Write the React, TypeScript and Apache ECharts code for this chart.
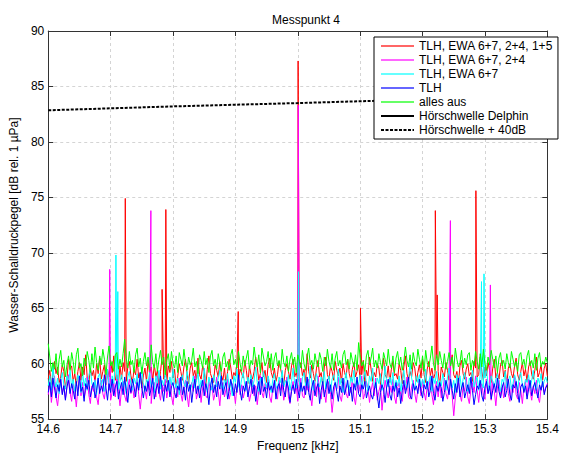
import React, { useEffect, useRef } from "react";
import * as echarts from "echarts";

const FONT = "'Liberation Sans', Arial, Helvetica, sans-serif";

const seriesNames = [
  "TLH, EWA 6+7, 2+4, 1+5",
  "TLH, EWA 6+7, 2+4",
  "TLH, EWA 6+7",
  "TLH",
  "alles aus",
  "Hörschwelle Delphin",
  "Hörschwelle + 40dB",
];
const seriesColors = ["#ff0000", "#ff00ff", "#00ffff", "#0000ff", "#00ff00", "#000000", "#000000"];

// frequency sampling of the noise spectra (kHz)
const freqStart = 14.6;
const freqStep = 0.0025;

const noiseRed = [
  58.6, 59.4, 58.1, 59.0, 60.2, 59.1, 59.7, 58.3, 58.8, 59.9, 59.3, 57.9, 58.6, 60.4, 59.5, 59.8,
  58.4, 59.1, 58.0, 59.3, 60.1, 58.5, 59.7, 59.0, 60.8, 58.7, 58.2, 59.6, 58.9, 59.4, 58.3, 60.0,
  59.1, 60.5, 58.6, 59.3, 59.9, 58.1, 59.5, 58.8, 60.3, 59.2, 60.7, 58.5, 59.0, 58.2, 59.8, 58.6,
  60.1, 59.3, 58.4, 59.7, 60.2, 58.9, 58.3, 59.5, 59.0, 60.4, 58.7, 59.2, 57.8, 58.9, 59.6, 58.4,
  60.3, 59.1, 59.7, 58.5, 59.9, 58.8, 59.4, 58.1, 59.3, 60.6, 58.6, 59.0, 58.3, 59.8, 59.2, 60.2,
  58.7, 59.5, 57.9, 58.8, 60.0, 59.3, 58.5, 59.7, 60.4, 59.1, 58.2, 59.6, 60.1, 58.9, 59.4, 58.4,
  60.5, 59.0, 58.6, 59.8, 59.3, 58.0, 59.5, 60.7, 59.1, 58.7, 58.3, 59.9, 59.4, 58.8, 60.2, 59.0,
  58.5, 59.6, 58.1, 59.3, 60.4, 59.7, 58.6, 59.2, 58.9, 60.0, 58.4, 59.5, 59.1, 58.7, 60.3, 59.4,
  58.2, 59.8, 59.0, 58.6, 59.3, 60.6, 59.7, 58.5, 59.1, 60.1, 58.8, 59.4, 58.3, 59.9, 60.5, 59.2,
  58.7, 59.6, 58.4, 59.0, 60.2, 59.5, 58.9, 58.1, 59.4, 60.0, 59.3, 58.6, 59.8, 60.4, 58.8, 59.2,
  58.5, 59.7, 60.1, 58.9, 59.5, 58.2, 60.9, 59.3, 58.7, 59.9, 59.1, 58.4, 59.6, 60.3, 58.8, 59.2,
  58.0, 59.7, 60.6, 59.0, 58.6, 59.8, 59.3, 58.5, 60.2, 59.4, 58.9, 59.6, 58.3, 60.0, 59.2, 58.7,
  60.4, 59.1, 58.5, 59.5, 60.1, 58.8, 59.3, 59.9, 58.6, 59.0, 60.3, 58.2, 59.4, 58.9, 60.6, 59.5,
  58.4, 59.2, 58.8, 60.0, 59.6, 58.1, 59.3, 60.5, 59.0, 58.7, 59.8, 58.3, 59.5, 60.2, 58.9, 59.1,
  58.6, 60.0, 59.4, 58.2, 59.7, 60.7, 59.1, 58.5, 59.3, 58.8, 60.1, 59.6, 58.4, 59.2, 59.9, 58.7,
  60.4, 59.0, 58.3, 59.5, 60.2, 58.9, 59.6, 58.6, 59.1, 60.5, 59.3, 58.0, 59.7, 59.2, 58.8, 60.1,
  59.4, 58.5, 59.9, 60.8, 59.0, 58.7, 59.3, 58.2, 59.8, 60.3, 59.1, 58.6, 59.5, 60.0, 58.9, 59.2,
  58.4, 60.2, 59.6, 58.8, 59.0, 60.6, 59.3, 58.5, 59.7, 58.9, 60.1, 59.4, 58.3, 59.6, 60.4, 58.7,
  59.2, 58.6, 59.9, 60.3, 58.8, 59.4, 58.1, 59.6, 60.0, 59.1, 58.7, 59.8, 60.5, 59.0, 58.5, 59.3,
  60.1, 58.9, 59.5, 58.4, 59.7, 60.2, 59.0, 58.6, 59.4, 60.6, 58.8, 59.2, 59.9, 58.5, 59.6, 60.0,
  58.9,
];

const noiseMagenta = [
  57.2, 58.4, 56.5, 57.8, 58.9, 57.0, 56.2, 57.6, 58.5, 57.3, 58.1, 56.8, 57.9, 59.0, 57.4, 56.6,
  58.2, 57.5, 56.1, 57.8, 58.7, 57.1, 58.3, 56.9, 57.6, 58.8, 57.2, 56.4, 58.0, 57.5, 58.6, 57.0,
  56.3, 57.9, 58.5, 57.3, 56.8, 58.2, 59.1, 57.6, 56.7, 57.4, 58.3, 57.0, 58.8, 57.5, 56.2, 57.7,
  58.4, 57.1, 56.6, 57.9, 58.6, 57.3, 58.0, 56.9, 57.5, 58.7, 57.2, 55.9, 57.4, 58.2, 57.7, 56.8,
  58.5, 57.6, 56.4, 57.9, 58.3, 57.0, 58.9, 57.4, 56.7, 58.1, 57.5, 58.6, 56.9, 57.8, 58.4, 57.1,
  56.3, 57.6, 58.2, 57.0, 58.7, 57.3, 56.6, 57.9, 58.5, 57.2, 56.1, 57.7, 58.3, 57.5, 58.9, 56.8,
  57.4, 58.1, 56.5, 57.8, 58.6, 57.1, 56.9, 58.4, 57.6, 58.0, 56.7, 57.3, 58.8, 57.5, 56.2, 57.9,
  58.3, 57.0, 57.7, 58.6, 56.8, 57.4, 58.2, 57.6, 56.4, 57.9, 58.7, 57.2, 58.1, 56.9, 57.5, 58.4,
  57.8, 56.6, 57.3, 58.5, 57.1, 58.0, 56.3, 57.6, 58.9, 57.4, 56.9, 58.2, 57.7, 58.6, 57.0, 56.5,
  57.9, 58.3, 57.2, 56.8, 58.5, 57.6, 58.1, 56.7, 57.4, 58.8, 57.0, 56.4, 57.8, 58.4, 57.3, 58.0,
  56.6, 57.5, 58.7, 57.1, 56.9, 58.2, 57.6, 58.6, 57.3, 56.2, 57.7, 58.3, 57.0, 58.9, 57.4, 56.8,
  58.1, 57.5, 56.5, 57.9, 58.4, 57.2, 55.6, 57.0, 58.3, 57.7, 58.8, 57.1, 56.6, 57.8, 58.5, 57.3,
  56.9, 58.0, 57.4, 58.6, 57.0, 56.3, 57.7, 58.2, 57.5, 58.9, 56.8, 57.3, 58.4, 57.8, 56.5, 57.6,
  58.3, 57.1, 58.7, 56.7, 57.5, 58.1, 55.8, 57.2, 58.5, 57.6, 56.9, 58.0, 57.4, 58.6, 57.0, 56.4,
  57.8, 58.3, 57.2, 56.6, 58.1, 57.6, 58.8, 57.0, 56.8, 57.9, 58.5, 57.3, 56.5, 57.7, 58.2, 57.1,
  58.6, 57.4, 56.7, 58.0, 57.5, 58.9, 57.2, 56.3, 57.8, 58.4, 57.0, 58.2, 56.9, 57.6, 58.7, 57.3,
  56.8, 57.9, 58.5, 57.1, 55.3, 56.9, 57.8, 58.4, 57.2, 56.6, 58.0, 57.5, 58.8, 57.0, 56.4, 57.7,
  58.3, 57.4, 58.9, 57.6, 56.5, 57.9, 58.2, 57.1, 56.8, 58.6, 57.3, 57.9, 56.7, 58.4, 57.5, 56.2,
  57.8, 58.5, 57.0, 58.1, 56.9, 57.6, 58.7, 57.3, 56.6, 58.0, 57.4, 58.9, 57.2, 56.8, 58.3, 57.6,
  56.4, 57.9, 58.4, 57.1, 58.6, 57.5, 56.7, 58.0, 57.3, 58.5, 57.0, 56.5, 57.8, 58.2, 57.4, 57.9,
  58.2,
];

const noiseCyan = [
  58.0, 58.9, 57.6, 59.8, 58.4, 57.9, 58.7, 57.3, 58.5, 59.2, 58.1, 57.7, 58.9, 58.3, 59.4, 57.8,
  58.6, 57.5, 58.2, 59.0, 58.4, 57.4, 59.3, 58.0, 58.7, 57.6, 58.9, 59.6, 58.2, 57.8, 58.5, 57.2,
  58.8, 59.1, 58.0, 58.6, 57.5, 58.3, 59.5, 58.1, 57.8, 58.9, 58.2, 60.0, 58.6, 57.7, 58.4, 59.0,
  57.9, 58.5, 57.3, 58.8, 59.3, 58.1, 57.6, 58.7, 58.2, 59.1, 57.8, 58.4, 59.7, 58.0, 57.5, 58.6,
  58.3, 59.2, 57.9, 58.6, 57.4, 58.9, 58.2, 59.4, 57.7, 58.5, 58.0, 59.1, 58.4, 57.6, 58.8, 58.1,
  59.5, 58.3, 57.8, 58.7, 57.2, 58.5, 59.0, 58.2, 57.9, 59.3, 58.6, 57.5, 58.1, 58.9, 57.8, 58.4,
  59.2, 57.7, 58.5, 58.0, 59.6, 58.3, 57.4, 58.8, 58.1, 57.6, 59.0, 58.4, 57.9, 58.7, 59.4, 58.0,
  57.5, 58.6, 58.2, 59.1, 57.8, 58.4, 57.1, 58.9, 58.3, 59.5, 58.0, 57.7, 58.6, 59.2, 58.1, 57.6,
  58.8, 58.2, 59.0, 57.9, 58.5, 59.7, 58.3, 57.5, 58.7, 58.0, 59.3, 58.4, 57.8, 58.9, 58.2, 57.4,
  58.6, 59.1, 58.0, 57.7, 58.8, 58.3, 59.4, 57.9, 58.5, 58.1, 59.0, 57.6, 58.4, 59.6, 58.2, 57.8,
  58.9, 58.4, 57.5, 58.7, 59.2, 58.0, 58.6, 57.8, 59.8, 58.3, 57.6, 58.5, 59.1, 58.2, 57.9, 58.8,
  58.1, 59.3, 57.7, 58.4, 58.9, 57.5, 58.6, 59.0, 58.3, 57.8, 59.5, 58.1, 58.7, 57.4, 58.5, 59.2,
  58.0, 57.6, 58.8, 58.3, 59.4, 57.9, 58.5, 58.1, 59.0, 57.7, 58.6, 59.3, 58.2, 57.5, 58.9, 58.4,
  59.6, 58.0, 57.8, 58.7, 58.2, 59.1, 57.6, 58.4, 59.8, 58.3, 57.9, 58.8, 58.1, 59.2, 57.7, 58.5,
  58.0, 58.9, 57.5, 58.6, 59.4, 58.2, 57.8, 58.5, 60.1, 58.7, 58.0, 57.6, 58.9, 58.3, 59.0, 57.9,
  58.6, 58.1, 59.5, 57.7, 58.4, 58.9, 57.5, 58.7, 58.2, 59.3, 57.9, 58.5, 58.0, 59.1, 58.4, 57.6,
  58.8, 59.6, 58.1, 57.8, 58.5, 57.4, 59.0, 58.3, 58.9, 57.7, 58.6, 59.2, 58.0, 57.5, 58.7, 58.3,
  59.4, 57.9, 58.4, 58.8, 57.6, 59.0, 58.2, 57.8, 58.7, 59.5, 58.1, 57.6, 58.9, 58.4, 57.9, 58.6,
  59.1, 58.0, 57.5, 58.6, 58.3, 59.3, 57.8, 58.5, 58.9, 57.7, 58.2, 59.0, 58.4, 57.6, 58.8, 59.2,
  58.1, 57.7, 58.6, 58.3, 59.0, 57.8, 58.5, 59.4, 58.0, 57.6, 58.7, 58.2, 59.1, 57.9, 58.4, 58.8,
  58.3,
];

const noiseBlue = [
  57.4, 58.3, 57.0, 58.7, 57.8, 56.9, 58.1, 57.5, 58.6, 57.2, 58.0, 56.7, 57.9, 58.5, 57.3, 58.2,
  57.6, 56.8, 58.4, 57.1, 58.9, 57.5, 57.9, 56.6, 58.2, 57.7, 58.5, 57.0, 57.8, 58.3, 56.9, 57.6,
  58.7, 57.3, 58.0, 57.5, 59.0, 57.8, 56.7, 58.2, 57.4, 58.6, 57.1, 57.9, 58.4, 56.8, 57.7, 58.3,
  57.2, 58.8, 57.6, 56.5, 58.1, 57.4, 58.6, 57.9, 57.0, 58.3, 57.6, 59.2, 57.8, 56.9, 58.0, 57.5,
  58.4, 57.1, 57.8, 58.7, 56.8, 57.6, 58.2, 57.3, 58.9, 57.7, 56.6, 58.1, 57.5, 58.5, 57.0, 57.9,
  58.3, 57.4, 56.9, 58.0, 57.6, 58.8, 57.2, 57.9, 56.7, 58.4, 57.5, 58.1, 56.5, 57.7, 58.6, 57.3,
  58.0, 56.9, 57.8, 58.5, 57.1, 58.2, 57.6, 56.3, 57.9, 58.7, 57.4, 58.1, 57.0, 58.4, 57.7, 58.9,
  57.2, 57.8, 58.3, 56.8, 57.5, 58.6, 57.9, 57.1, 58.2, 57.4, 59.0, 57.6, 56.7, 58.0, 57.5, 58.4,
  57.0, 57.8, 58.6, 57.3, 58.1, 56.6, 57.7, 58.4, 57.2, 58.8, 57.5, 57.9, 56.9, 58.3, 57.6, 58.0,
  57.4, 58.5, 56.8, 57.9, 58.2, 57.1, 58.7, 57.6, 57.0, 58.4, 57.8, 56.5, 57.5, 58.1, 57.3, 58.6,
  57.7, 56.9, 58.3, 57.5, 58.0, 57.2, 58.8, 57.4, 56.7, 57.9, 58.5, 57.1, 57.8, 58.2, 56.4, 57.6,
  58.4, 57.0, 57.7, 58.6, 57.3, 58.1, 56.8, 57.9, 58.3, 57.5, 56.6, 58.0, 57.4, 58.7, 57.2, 57.8,
  58.5, 57.1, 57.9, 56.6, 58.2, 57.6, 58.8, 57.3, 57.0, 58.1, 57.7, 58.4, 56.9, 57.5, 58.0, 57.2,
  56.8, 57.6, 58.3, 57.1, 56.0, 57.4, 58.1, 57.7, 56.5, 57.9, 58.6, 57.2, 56.7, 58.0, 57.5, 58.3,
  57.0, 57.8, 56.4, 57.6, 58.5, 57.3, 57.9, 58.8, 57.1, 56.8, 58.2, 57.6, 58.0, 57.3, 58.6, 57.5,
  56.9, 58.1, 57.7, 58.4, 57.0, 57.6, 58.9, 57.3, 56.7, 58.0, 57.5, 58.3, 57.8, 56.6, 57.4, 58.5,
  57.9, 57.2, 58.6, 57.6, 56.8, 58.2, 57.4, 58.7, 57.0, 57.8, 58.3, 56.9, 57.5, 58.1, 57.3, 58.8,
  57.6, 56.3, 57.2, 58.0, 57.7, 58.5, 57.1, 56.6, 57.9, 58.4, 57.3, 58.0, 56.8, 57.6, 58.2, 57.4,
  58.7, 57.5, 56.9, 57.8, 58.3, 57.0, 57.6, 58.6, 57.2, 56.7, 58.1, 57.8, 58.4, 57.3, 56.5, 57.9,
  58.2, 57.4, 58.0, 56.8, 57.7, 58.5, 57.1, 57.9, 58.3, 57.5, 56.9, 58.1, 57.6, 58.4, 57.2, 57.8,
  58.1,
];

const noiseGreen = [
  61.8, 60.6, 59.3, 60.1, 59.5, 60.9, 59.0, 60.4, 61.2, 59.7, 60.3, 58.8, 59.9, 60.7, 59.4, 61.0,
  60.2, 59.1, 60.8, 61.4, 59.6, 60.0, 58.9, 60.5, 59.8, 61.1, 60.3, 59.2, 60.9, 59.6, 61.5, 60.1,
  59.4, 60.7, 59.9, 61.3, 60.4, 59.0, 60.6, 61.6, 59.8, 60.2, 59.3, 60.8, 61.0, 59.5, 60.4, 59.7,
  60.9, 62.2, 60.5, 59.6, 61.1, 59.9, 60.3, 59.2, 60.8, 61.4, 59.7, 60.5, 59.1, 60.2, 61.0, 59.8,
  60.6, 59.4, 61.7, 60.1, 59.6, 60.9, 59.3, 60.4, 61.2, 59.9, 60.6, 59.0, 60.3, 60.9, 59.5, 61.1,
  60.0, 59.6, 60.7, 59.2, 61.0, 60.4, 59.8, 61.3, 60.1, 59.4, 60.6, 59.9, 60.3, 61.4, 59.7, 60.2,
  59.1, 60.8, 60.3, 59.6, 61.1, 59.9, 60.5, 59.2, 60.7, 61.2, 59.8, 60.4, 59.5, 60.9, 60.1, 59.3,
  60.6, 61.0, 59.7, 60.2, 59.4, 60.8, 61.3, 59.9, 60.4, 59.6, 61.1, 60.0, 59.3, 60.7, 59.8, 60.5,
  61.2, 59.5, 60.3, 59.9, 61.5, 60.4, 59.7, 60.8, 59.2, 61.4, 60.6, 59.8, 60.2, 61.1, 59.6, 60.9,
  59.4, 60.5, 61.0, 59.8, 60.3, 59.5, 61.3, 60.1, 59.7, 60.7, 59.3, 60.4, 61.0, 59.9, 60.6, 59.2,
  60.8, 60.2, 59.6, 61.2, 60.0, 59.4, 60.7, 61.4, 59.9, 60.3, 59.5, 60.9, 60.1, 59.7, 61.0, 60.4,
  59.3, 60.6, 59.8, 61.3, 60.2, 59.6, 60.9, 59.4, 60.5, 61.1, 59.8, 60.3, 59.6, 60.8, 61.2, 59.9,
  60.4, 59.5, 61.0, 60.3, 59.7, 60.8, 59.4, 61.9, 60.6, 59.8, 60.2, 59.3, 60.7, 61.2, 59.9, 60.5,
  61.4, 59.7, 60.3, 59.6, 60.9, 60.1, 59.5, 61.0, 60.4, 59.8, 61.3, 60.0, 59.6, 60.7, 59.2, 60.5,
  61.1, 59.9, 60.6, 59.4, 60.2, 61.5, 60.3, 59.7, 60.8, 59.5, 61.0, 60.2, 59.8, 61.3, 60.4, 59.6,
  60.7, 59.3, 61.2, 60.1, 59.7, 60.5, 61.6, 60.0, 59.4, 60.8, 59.9, 61.1, 60.3, 59.6, 60.9, 59.5,
  60.2, 61.0, 59.8, 60.6, 59.3, 61.4, 60.4, 59.7, 60.1, 61.2, 59.6, 60.5, 59.9, 60.8, 61.0, 59.4,
  60.3, 59.8, 61.1, 60.2, 59.5, 60.9, 59.7, 61.3, 60.0, 59.4, 60.6, 59.9, 61.2, 60.4, 59.6, 60.7,
  59.2, 60.5, 61.0, 59.8, 60.3, 59.5, 60.9, 60.1, 59.6, 61.1, 60.4, 59.7, 60.2, 59.3, 60.8, 61.0,
  59.9, 60.4, 59.5, 60.7, 61.2, 59.8, 60.3, 59.6, 60.9, 59.4, 60.5, 61.0, 59.7, 60.2, 59.9, 60.6,
  60.1,
];

// tonal peaks: [frequency kHz, level dB]
const peaksRed = [
  [14.7235, 74.9], [14.7825, 66.7], [14.7885, 73.9], [14.9045, 64.7], [15.0005, 87.3],
  [15.1005, 65.0], [15.2205, 73.8], [15.2235, 66.2], [15.2855, 75.6],
];
const peaksMagenta = [
  [14.6985, 68.5], [14.7645, 73.8], [15.0008, 83.3], [15.2446, 72.9], [15.3087, 67.1],
];
const peaksCyan = [
  [14.7085, 69.8], [14.7115, 66.5], [15.0012, 68.3], [15.2945, 67.4], [15.2985, 68.1],
];
const peaksBlue: number[][] = [];
const peaksGreen: number[][] = [];

// hearing threshold (dB) at these frequencies
const thresholdFreqs = [14.6, 14.8, 15.0, 15.2, 15.4];
const thresholdDelphin = [42.85, 43.2, 43.5, 43.83, 44.15];
const thresholdPlus40 = [82.85, 83.2, 83.5, 83.83, 84.15];

const xTicks = { min: 14.6, max: 15.4, interval: 0.1 };
const yTicks = { min: 55, max: 90, interval: 5 };

function buildSeries(noise: number[], peaks: number[][]) {
  const pts: number[][] = noise.map((v, i) => [+(freqStart + i * freqStep).toFixed(4), v]);
  peaks.forEach((p) => pts.push([p[0], p[1]]));
  pts.sort((a, b) => a[0] - b[0]);
  return pts;
}

export default function App() {
  const ref = useRef<HTMLDivElement>(null);
  useEffect(() => {
    if (!ref.current) return;
    const chart = echarts.init(ref.current, undefined, { renderer: "svg" });
    const spectra = [
      buildSeries(noiseRed, peaksRed),
      buildSeries(noiseMagenta, peaksMagenta),
      buildSeries(noiseCyan, peaksCyan),
      buildSeries(noiseBlue, peaksBlue),
      buildSeries(noiseGreen, peaksGreen),
    ];
    const lineSeries: any[] = spectra.map((d, i) => ({
      name: seriesNames[i],
      type: "line",
      data: d,
      symbol: "none",
      clip: true,
      lineStyle: { color: seriesColors[i], width: 1 },
      itemStyle: { color: seriesColors[i] },
    }));
    lineSeries.push({
      name: seriesNames[5],
      type: "line",
      data: thresholdFreqs.map((f, i) => [f, thresholdDelphin[i]]),
      symbol: "none",
      clip: true,
      lineStyle: { color: "#000", width: 2 },
      itemStyle: { color: "#000" },
    });
    lineSeries.push({
      name: seriesNames[6],
      type: "line",
      data: thresholdFreqs.map((f, i) => [f, thresholdPlus40[i]]),
      symbol: "none",
      clip: true,
      lineStyle: { color: "#000", width: 2, type: [3, 1.5] },
      itemStyle: { color: "#000" },
    });

    const axisCommon = {
      type: "value",
      axisLine: { show: true, onZero: false, lineStyle: { color: "#333", width: 1 } },
      axisTick: { show: true, inside: true, length: 5, lineStyle: { color: "#333" } },
    };

    chart.setOption({
      animation: false,
      textStyle: { fontFamily: FONT },
      title: {
        text: "Messpunkt 4",
        left: 301,
        top: 9,
        textAlign: "center",
        textStyle: { fontSize: 12, fontWeight: "normal", color: "#000", fontFamily: FONT },
      },
      grid: { left: 44, right: 11, top: 31, bottom: 29, show: false },
      legend: {
        orient: "vertical",
        left: 374,
        top: 37,
        padding: [2, 5, 2, 6],
        itemWidth: 33,
        itemHeight: 10,
        itemGap: 0,
        selectedMode: false,
        backgroundColor: "#fff",
        borderColor: "#000",
        borderWidth: 1,
        borderRadius: 0,
        itemStyle: { opacity: 0 },
        data: seriesNames.map((n, i) =>
          i < 5 ? { name: n, lineStyle: { opacity: 0.6 } } : { name: n }
        ),
        textStyle: { fontSize: 12, lineHeight: 14, color: "#000", fontFamily: FONT },
      },
      xAxis: [
        {
          ...axisCommon,
          position: "bottom",
          min: xTicks.min,
          max: xTicks.max,
          interval: xTicks.interval,
          name: "Frequenz [kHz]",
          nameLocation: "middle",
          nameGap: 17,
          nameTextStyle: { fontSize: 12, color: "#000", fontFamily: FONT },
          axisLabel: { fontSize: 12, color: "#000", margin: 4, fontFamily: FONT },
          splitLine: { show: true, lineStyle: { color: "#d4d4d4", type: [3, 3], width: 1 } },
        },
        {
          ...axisCommon,
          position: "top",
          min: xTicks.min,
          max: xTicks.max,
          interval: xTicks.interval,
          axisLabel: { show: false },
          splitLine: { show: false },
        },
      ],
      yAxis: [
        {
          ...axisCommon,
          position: "left",
          min: yTicks.min,
          max: yTicks.max,
          interval: yTicks.interval,
          name: "Wasser-Schalldruckpegel [dB rel. 1 µPa]",
          nameLocation: "middle",
          nameGap: 23,
          nameTextStyle: { fontSize: 12, color: "#000", fontFamily: FONT },
          axisLabel: { fontSize: 12, color: "#000", margin: 4, fontFamily: FONT },
          splitLine: { show: true, lineStyle: { color: "#d4d4d4", type: [3, 3], width: 1 } },
        },
        {
          ...axisCommon,
          position: "right",
          min: yTicks.min,
          max: yTicks.max,
          interval: yTicks.interval,
          axisLabel: { show: false },
          splitLine: { show: false },
        },
      ],
      series: lineSeries,
    });
    return () => chart.dispose();
  }, []);
  return (
    <div
      ref={ref}
      style={{ position: "fixed", left: 0, top: 0, width: 562, height: 457, background: "#fff" }}
    />
  );
}
